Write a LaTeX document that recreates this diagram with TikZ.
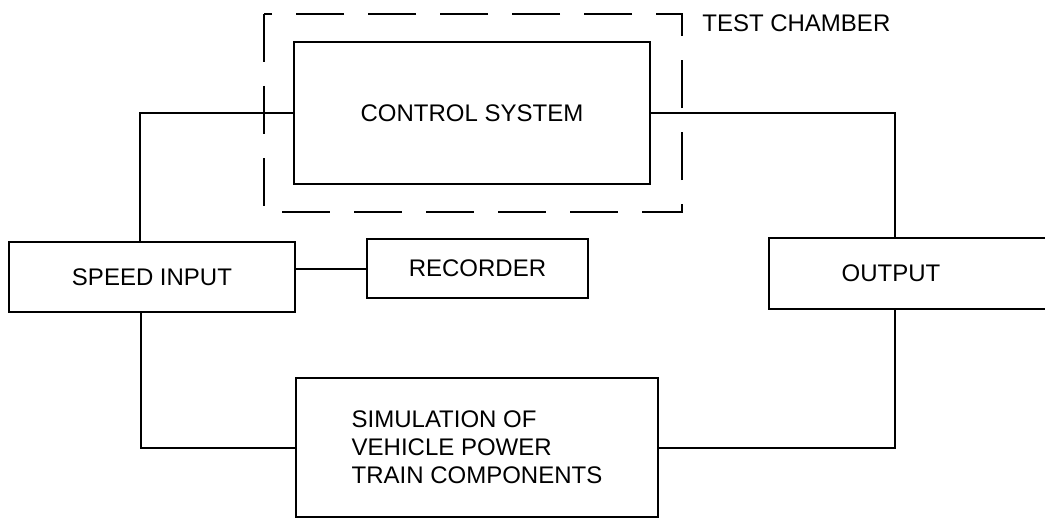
\documentclass[tikz,border=0pt]{standalone}
\usepackage{fontspec}
\setmainfont{Liberation Sans}
\usetikzlibrary{positioning, calc}

\begin{document}
\begin{tikzpicture}[x=1pt, y=-1pt, line width=2pt, every node/.style={font=\fontsize{24}{28}\selectfont}]
        \tikzstyle{box} = [rectangle, draw=black, line width=2pt, inner sep=0pt]
        \tikzstyle{wire} = [draw=black, line width=2pt]

        \useasboundingbox (0,0) rectangle (1045,519);

        % test chamber
        \draw[dash pattern=on 48pt off 24pt] (264,14) rectangle (682,212);
        \node[anchor=west] (chamber) at (698,23) {TEST CHAMBER};

        % blocks
        \node[box, minimum width=356pt, minimum height=142pt] (ctrl) at (472,113) {CONTROL SYSTEM};
        \node[box, minimum width=286pt, minimum height=70pt] (speed) at (152,277) {SPEED INPUT};
        \node[box, minimum width=221pt, minimum height=59pt] (rec) at (477.5,268.5) {RECORDER};
        \node[box, minimum width=300pt, minimum height=71pt] (out) at (919,273.5) {\hspace*{-56pt}OUTPUT};
        \node[box, minimum width=362pt, minimum height=139pt, align=left] (sim) at (477,447.5) {SIMULATION OF\\VEHICLE POWER\\TRAIN COMPONENTS};

        % bends of the wires
        \coordinate (sinTop) at (140,242);
        \coordinate (sinBot) at (141,312);
        \coordinate (outTop) at (895,238);
        \coordinate (outBot) at (895,309);

        % wires
        \draw[wire] (ctrl.west) -| (sinTop);
        \draw[wire] (ctrl.east) -| (outTop);
        \draw[wire] (speed.east |- rec.west) -- (rec.west);
        \draw[wire] (sim.west) -| (sinBot);
        \draw[wire] (sim.east) -| (outBot);

    \end{tikzpicture}
\end{document}
